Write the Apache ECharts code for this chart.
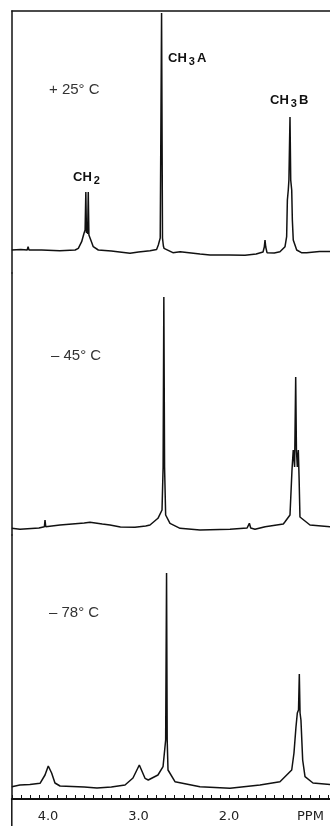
<!DOCTYPE html>
<html>
<head>
<meta charset="utf-8">
<script src="https://cdn.jsdelivr.net/npm/echarts@6/dist/echarts.min.js"></script>
<style>
  html, body { margin: 0; padding: 0; background: #fff; }
  #container { width: 330px; height: 826px; }
</style>
</head>
<body>
<div id="container"></div>
<script>
// [ppm, intensity above baseline]
var spec25 = [
  [4.40,0],[4.30,0.5],[4.23,0],[4.22,3.3],[4.21,0],[4.20,0.7],[4.07,0],[3.87,-0.7],[3.70,0],
  [3.665,1.7],[3.628,8.3],[3.602,16.7],[3.59,20],[3.582,58],[3.575,17],[3.567,25],[3.562,16],
  [3.555,58],[3.548,15],[3.536,13],[3.528,13],[3.515,7],[3.50,3.3],[3.444,0],[3.30,-1],
  [3.094,-3.3],[3.00,-2],[2.873,-0.7],[2.80,0.5],[2.781,5],[2.76,12],[2.745,237],[2.735,12],
  [2.725,4],[2.718,1.7],[2.70,0],[2.62,-2.7],[2.54,-1.7],[2.32,-4],[2.21,-5],[2.00,-5],
  [1.823,-5.3],[1.70,-4],[1.624,-2],[1.61,3],[1.602,10],[1.594,3],[1.58,-2.7],[1.50,-3],
  [1.437,-1.7],[1.381,3.3],[1.363,13.3],[1.355,50],[1.345,60],[1.338,70],[1.326,133],
  [1.318,70],[1.307,60],[1.30,30],[1.29,10],[1.252,0],[1.20,-2.7],[1.142,-2.7],[1.00,-1.5],
  [0.80,-1.7]
];
var spec45 = [
  [4.40,-1.3],[4.31,-2.3],[4.10,-1],[4.04,0.3],[4.033,7],[4.025,0.3],[3.867,2],[3.60,4],
  [3.536,4.7],[3.40,3],[3.315,2],[3.20,0],[3.039,-0.3],[2.92,1],[2.873,2],[2.785,8.7],
  [2.74,17],[2.728,60],[2.72,230],[2.712,60],[2.70,12],[2.652,3.7],[2.541,-1.3],[2.321,-3],
  [1.989,-2.3],[1.80,-1],[1.775,3.7],[1.76,-1],[1.713,-2.3],[1.60,0.3],[1.40,3],[1.381,5.3],
  [1.326,12],[1.304,57],[1.29,77],[1.275,60],[1.263,150],[1.255,77],[1.245,60],[1.234,77],
  [1.225,47],[1.216,10],[1.105,2],[0.80,-0.3]
];
var spec78 = [
  [4.40,-1.7],[4.31,0],[4.20,0.5],[4.088,1.7],[4.07,3],[4.033,10],[3.997,19],[3.96,12],
  [3.923,2],[3.867,-1],[3.60,-2],[3.459,-3],[3.30,-2],[3.149,0],[3.061,7],[2.991,20],
  [2.928,6.7],[2.892,5],[2.873,5],[2.785,10],[2.729,18.3],[2.70,45],[2.69,212],[2.683,45],
  [2.674,15],[2.597,3.3],[2.321,-1.7],[1.989,-3.3],[1.658,0],[1.437,3.3],[1.307,15],
  [1.282,32],[1.26,58],[1.245,72],[1.232,75],[1.223,111],[1.215,72],[1.205,65],[1.197,63],
  [1.186,25],[1.16,8.3],[1.072,2],[0.80,0]
];
var tempLabels = ['+ 25° C', '– 45° C', '– 78° C'];
var tickLabels = {'4': '4.0', '3': '3.0', '2': '2.0', '1.1': 'PPM'};

var ink = '#111';
var dom = document.getElementById('container');
var myChart = echarts.init(dom);

function xAx(idx, pos, show) {
  return {
    gridIndex: idx, type: 'value', inverse: true, min: 0.8, max: 4.4, interval: 0.1,
    position: pos, show: show,
    axisLine: {show: true, onZero: false, lineStyle: {color: ink, width: pos == 'bottom' ? 2 : 1.5}},
    axisTick: {show: pos == 'bottom', inside: true, length: 4, lineStyle: {color: ink, width: 1}},
    axisLabel: {
      show: pos == 'bottom', margin: 11, color: '#222', fontSize: 13,
      fontFamily: 'DejaVu Sans',
      formatter: function (v) {
        var k = String(Math.round(v * 10) / 10);
        return tickLabels[k] || '';
      }
    },
    splitLine: {show: false}
  };
}
function yAx(idx, lo, hi) {
  return {
    gridIndex: idx, type: 'value', min: lo, max: hi,
    axisLine: {show: true, onZero: false, lineStyle: {color: ink, width: 1.5}},
    axisTick: {show: false}, axisLabel: {show: false}, splitLine: {show: false}
  };
}
function spec(idx, data) {
  return {
    type: 'line', xAxisIndex: idx, yAxisIndex: idx, data: data,
    showSymbol: false, symbol: 'none', animation: false,
    lineStyle: {color: ink, width: 1.5}
  };
}
function txt(x, y, t, size) {
  return {type: 'text', left: x, top: y, style: {text: t, fill: '#333', font: size + 'px "Liberation Sans"'}};
}
function chem(x, y, a, b) {
  return {
    type: 'text', left: x, top: y,
    style: {
      text: '{m|' + a + '}{s|' + b[0] + '}{m|' + b.slice(1) + '}',
      rich: {
        m: {fontSize: 13, fontWeight: 'bold', fontFamily: 'Liberation Sans', fill: '#111', lineHeight: 18},
        s: {fontSize: 11, fontWeight: 'bold', fontFamily: 'Liberation Sans', fill: '#111', lineHeight: 11, verticalAlign: 'bottom', padding: [0, 2, 0, 2]}
      }
    }
  };
}

var option = {
  animation: false,
  grid: [
    {left: 11.8, right: -7.6, top: 11, height: 262, containLabel: false, outerBoundsMode: 'none'},
    {left: 11.8, right: -7.6, top: 273, height: 262, containLabel: false, outerBoundsMode: 'none'},
    {left: 11.8, right: -7.6, top: 535, height: 264, containLabel: false, outerBoundsMode: 'none'}
  ],
  xAxis: [xAx(0, 'top', true), xAx(1, 'bottom', false), xAx(2, 'bottom', true)],
  yAxis: [yAx(0, -23, 239), yAx(1, -8, 254), yAx(2, -14, 250)],
  series: [spec(0, spec25), spec(1, spec45), spec(2, spec78)],
  graphic: [
    {type: 'line', shape: {x1: 11.8, y1: 799, x2: 11.8, y2: 826}, style: {stroke: ink, lineWidth: 1.5}},
    txt(49, 82, tempLabels[0], 15),
    txt(51, 348, tempLabels[1], 15),
    txt(49, 605, tempLabels[2], 15),
    chem(168, 52, 'CH', '3A'),
    chem(270, 94, 'CH', '3B'),
    chem(73, 171, 'CH', '2')
  ]
};
myChart.setOption(option);
</script>
</body>
</html>
